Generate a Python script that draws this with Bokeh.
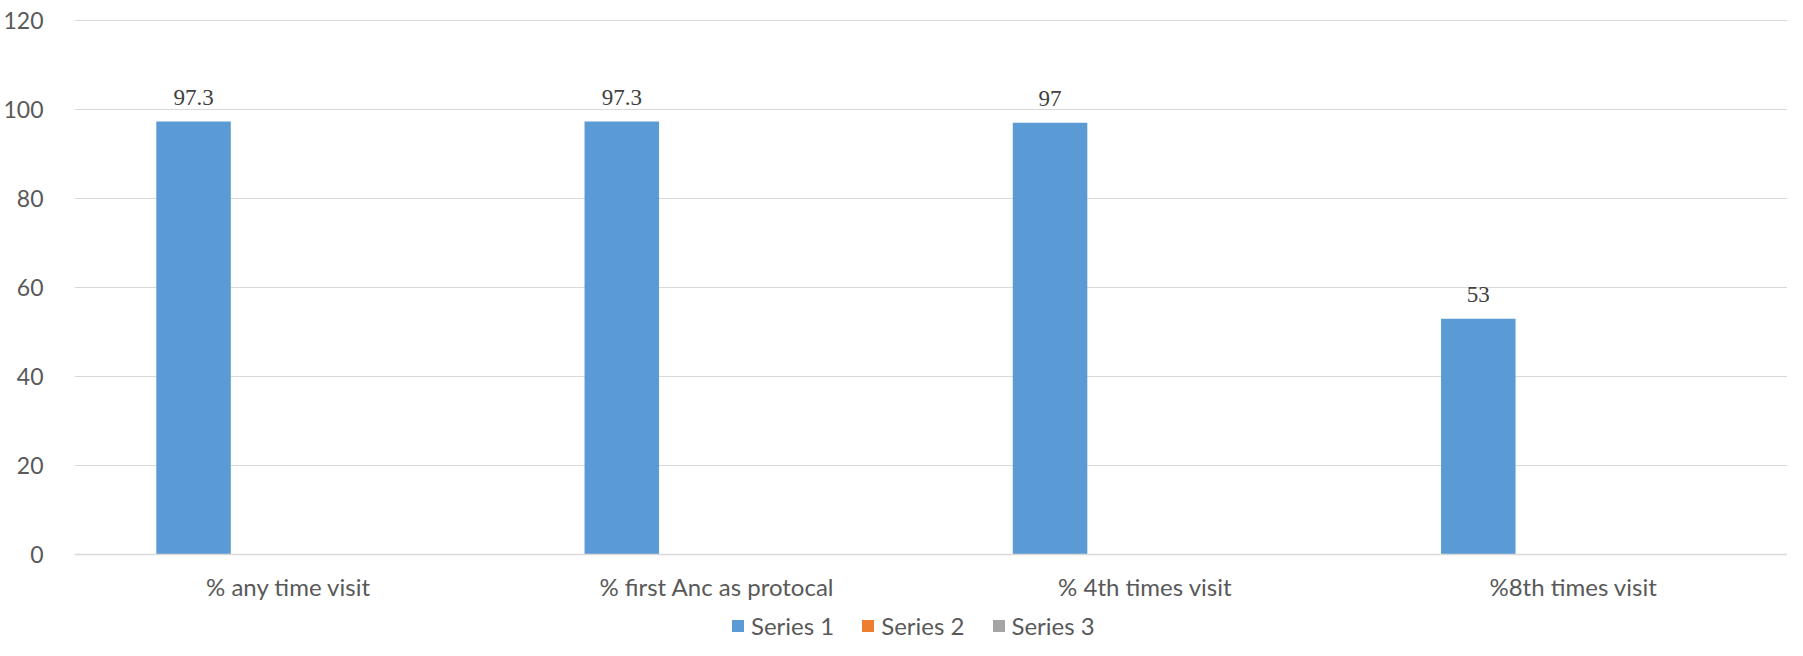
import numpy as np
from bokeh.plotting import figure
from bokeh.models import ColumnDataSource, FactorRange, FixedTicker, Legend, LegendItem, LabelSet
from bokeh.transform import dodge
from bokeh.embed import file_html
from bokeh.resources import INLINE

categories = ["% any time visit", "% first Anc as protocal", "% 4th times visit", "%8th times visit"]
series1 = [97.3, 97.3, 97, 53]
series2 = [np.nan, np.nan, np.nan, np.nan]
series3 = [np.nan, np.nan, np.nan, np.nan]
labels1 = ["97.3", "97.3", "97", "53"]
y_ticks = [0, 20, 40, 60, 80, 100, 120]

FONT = "Lato"
TXT = "#595959"

src = ColumnDataSource(dict(cat=categories, s1=series1, s2=series2, s3=series3, lab=labels1))

p = figure(x_range=FactorRange(*categories), y_range=(-19.33, 121.57),
           width=1787, height=640,
           output_backend="svg", toolbar_location=None,
           min_border_left=69, min_border_right=0, min_border_top=13, min_border_bottom=0)
p.outline_line_color = None
p.background_fill_color = "white"
p.border_fill_color = "white"

w = 0.174
r1 = p.vbar(x=dodge("cat", -0.222, range=p.x_range), top="s1", width=w, source=src,
            fill_color="#5B9BD5", line_color=None)
r2 = p.vbar(x=dodge("cat", 0.0, range=p.x_range), top="s2", width=w, source=src,
            fill_color="#ED7D31", line_color=None)
r3 = p.vbar(x=dodge("cat", 0.222, range=p.x_range), top="s3", width=w, source=src,
            fill_color="#A5A5A5", line_color=None)

lbl = LabelSet(x=dodge("cat", -0.222, range=p.x_range), y="s1", text="lab", source=src,
               text_align="center", text_baseline="alphabetic", y_offset=17,
               text_font=FONT, text_font_size="23px", text_color="#404040")
p.add_layout(lbl)

p.xgrid.grid_line_color = None
p.ygrid.grid_line_color = "#D9D9D9"
p.ygrid.grid_line_width = 1
p.yaxis.ticker = FixedTicker(ticks=y_ticks)
p.yaxis.axis_line_color = None
p.yaxis.major_tick_line_color = None
p.yaxis.minor_tick_line_color = None
p.yaxis.major_label_standoff = 25
p.yaxis.major_label_text_font = FONT
p.yaxis.major_label_text_font_size = "23px"
p.yaxis.major_label_text_color = TXT

p.xaxis.fixed_location = 0
p.xaxis.axis_line_color = "#D9D9D9"
p.xaxis.axis_line_width = 1.5
p.xaxis.major_tick_line_color = None
p.xaxis.minor_tick_line_color = None
p.xaxis.major_label_standoff = 12
p.xaxis.major_label_text_font = FONT
p.xaxis.major_label_text_font_size = "24px"
p.xaxis.major_label_text_color = TXT
p.xaxis.major_label_orientation = "horizontal"

legend = Legend(items=[LegendItem(label="Series 1", renderers=[r1]),
                       LegendItem(label="Series 2", renderers=[r2]),
                       LegendItem(label="Series 3", renderers=[r3])],
                orientation="horizontal", location=(656, 0),
                glyph_width=15, glyph_height=15, label_standoff=6, spacing=26,
                label_text_font=FONT, label_text_font_size="24px", label_text_color=TXT,
                border_line_color=None, background_fill_alpha=0, padding=0, margin=0)
p.add_layout(legend, "center")

open("out.html", "w").write(file_html(p, INLINE))
